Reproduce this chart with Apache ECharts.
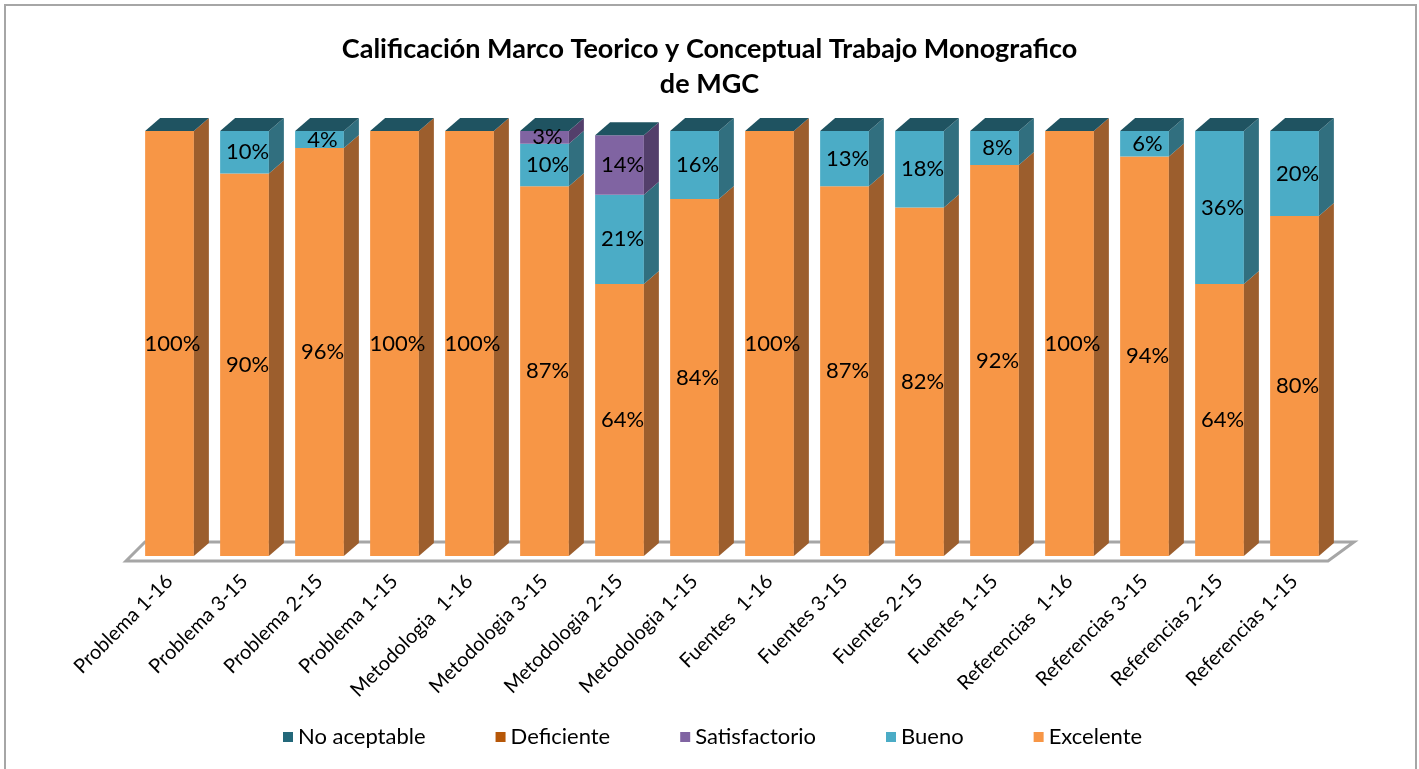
<!DOCTYPE html>
<html>
<head>
<meta charset="utf-8">
<script src="https://cdn.jsdelivr.net/npm/echarts@6/dist/echarts.min.js"></script>
<style>
  html, body { margin: 0; padding: 0; background: #fff; }
  #chart { width: 1419px; height: 769px; }
</style>
</head>
<body>
<div id="chart"></div>
<script>
const categories = ["Problema 1-16", "Problema 3-15", "Problema 2-15", "Problema 1-15",
    "Metodologia  1-16", "Metodologia 3-15", "Metodologia 2-15", "Metodologia 1-15",
    "Fuentes  1-16", "Fuentes 3-15", "Fuentes 2-15", "Fuentes 1-15",
    "Referencias  1-16", "Referencias 3-15", "Referencias 2-15", "Referencias 1-15"];

const excelente     = [100, 90, 96, 100, 100, 87, 64, 84, 100, 87, 82, 92, 100, 94, 64, 80];
const bueno         = [0, 10, 4, 0, 0, 10, 21, 16, 0, 13, 18, 8, 0, 6, 36, 20];
const satisfactorio = [0, 0, 0, 0, 0, 3, 14, 0, 0, 0, 0, 0, 0, 0, 0, 0];
const deficiente    = [0, 0, 0, 0, 0, 0, 0, 0, 0, 0, 0, 0, 0, 0, 0, 0];
const noAceptable   = [0, 0, 0, 0, 0, 0, 0, 0, 0, 0, 0, 0, 0, 0, 0, 0];

const FONT = "Lato";
const DX = 15, DY = 13; // depth of the 3d bars

// stacked order bottom -> top
const stackDefs = [
    {name: "Excelente", data: excelente, front: "#F79646", side: "#9C5E2D"},
    {name: "Bueno", data: bueno, front: "#4BACC6", side: "#316F7F"},
    {name: "Satisfactorio", data: satisfactorio, front: "#8064A2", side: "#533F6B"},
    {name: "Deficiente", data: deficiente, front: "#B65708", side: "#7A3A05"},
    {name: "No aceptable", data: noAceptable, front: "#23687A", side: "#1B4F5C", top: "#1F5361"}
];

function makeRender(def, isTop){
    return function(params, api){
        const idx = api.value(0), base = api.value(1), val = api.value(2);
        const p0 = api.coord([idx, base]);
        const p1 = api.coord([idx, base + val]);
        const bw = api.size([1, 0])[0] * 0.65;
        const x0 = p0[0] - bw / 2, x1 = p0[0] + bw / 2;
        const yb = p0[1], yt = p1[1];
        const children = [];
        if (val > 0){
            children.push({type: 'rect', shape: {x: x0, y: yt, width: bw, height: yb - yt},
                style: {fill: def.front}});
            children.push({type: 'polygon', shape: {points: [[x1, yb], [x1 + DX, yb - DY], [x1 + DX, yt - DY], [x1, yt]]},
                style: {fill: def.side}});
            children.push({type: 'text', z2: 10, style: {text: val + '%', x: p0[0] + 3, y: (yb + yt) / 2,
                align: 'center', verticalAlign: 'middle', fontSize: 22, fontFamily: FONT, fill: '#000'}});
        }
        if (isTop){
            children.push({type: 'polygon', shape: {points: [[x0, yt], [x1, yt], [x1 + DX, yt - DY], [x0 + DX, yt - DY]]},
                style: {fill: def.top}});
        }
        return {type: 'group', children};
    };
}

const series = [];

// floor of the 3d plot
series.push({
    type: 'custom', name: 'floor', silent: true, z: 1,
    data: [0],
    renderItem: function(params){
        const cs = params.coordSys;
        const gb = cs.y + cs.height + 5;
        return {type: 'polygon', shape: {points: [
            [cs.x - 6, gb], [cs.x + cs.width - 4, gb],
            [cs.x + cs.width + 22, gb - 19], [cs.x + 13, gb - 19]]},
            style: {fill: '#fff', stroke: '#A6A6A6', lineWidth: 3}};
    }
});

const running = categories.map(() => 0);
stackDefs.forEach((def, si) => {
    const isTop = si === stackDefs.length - 1;
    const rows = def.data.map((v, i) => {
        const r = [i, running[i], v];
        running[i] += v;
        return r;
    });
    series.push({
        type: 'custom', name: def.name, z: 2,
        itemStyle: {color: def.front},
        encode: {x: 0, y: [1, 2]},
        data: rows,
        renderItem: makeRender(def, isTop)
    });
});

const chart = echarts.init(document.getElementById('chart'), null, {renderer: 'canvas'});
chart.setOption({
    animation: false,
    backgroundColor: '#fff',
    title: {
        text: 'Calificación Marco Teorico y Conceptual Trabajo Monografico\nde MGC',
        left: 'center', top: 27,
        textStyle: {fontFamily: FONT, fontSize: 27, fontWeight: 'bold', color: '#000', lineHeight: 35}
    },
    legend: {
        bottom: 16, left: 278, itemGap: 70,
        icon: 'rect', itemWidth: 10, itemHeight: 10,
        textStyle: {fontFamily: FONT, fontSize: 22, color: '#000'},
        data: ['No aceptable', 'Deficiente', 'Satisfactorio', 'Bueno', 'Excelente']
    },
    grid: {left: 132, right: 87, top: 131, bottom: 213},
    xAxis: {
        type: 'category', data: categories,
        axisLine: {show: false}, axisTick: {show: false},
        axisLabel: {interval: 0, rotate: 45, margin: 22, fontFamily: FONT, fontSize: 20, color: '#000'}
    },
    yAxis: {type: 'value', min: 0, max: 100, show: false},
    graphic: [{type: 'rect', shape: {x: 5, y: 5, width: 1411, height: 780},
        style: {fill: 'none', stroke: '#A6A6A6', lineWidth: 2}, z: 100, silent: true}],
    series
});
</script>
</body>
</html>
